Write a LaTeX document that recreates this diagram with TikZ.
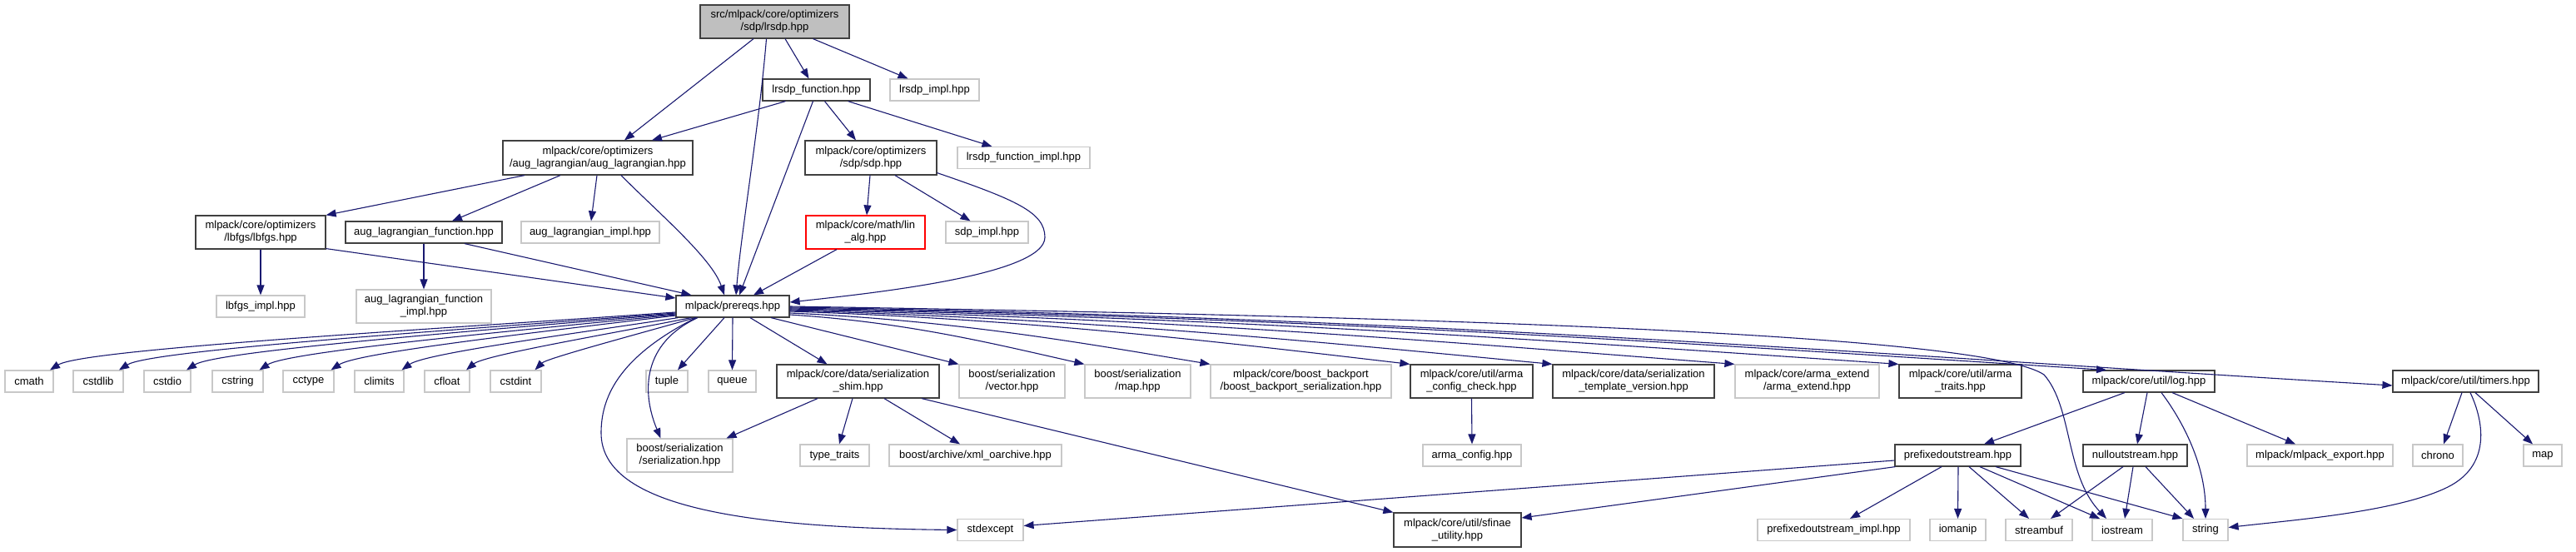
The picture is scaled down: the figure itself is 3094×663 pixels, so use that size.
\documentclass[tikz,border=0pt]{standalone}
\usepackage{fontspec}
\setmainfont{Liberation Sans}
\usetikzlibrary{arrows.meta}
\definecolor{edgecol}{HTML}{191970}
\definecolor{litegray}{HTML}{C8C8C8}
\definecolor{darkb}{HTML}{404040}
\definecolor{rootfill}{HTML}{BFBFBF}
\newcommand\mknode[6]{\node[#1, minimum width=#4pt, minimum height=#5pt] (#2) at (#3) {#6};}
\begin{document}
\begin{tikzpicture}[x=1pt,y=-1pt,
  box/.style={draw=darkb, line width=1.2pt, inner sep=0pt, align=center, font=\fontsize{13}{15}\selectfont, text=black},
  ext/.style={box, draw=litegray},
  root/.style={box, fill=rootfill},
  redbox/.style={box, draw=red},
  edge/.style={draw=edgecol, line width=1.1pt, -{Triangle[length=12pt,width=9pt]}},
]
\useasboundingbox[fill=white] (0,0) rectangle (3094,663);
% nodes
\mknode{root}{lrsdp}{930.5,26}{179}{40}{src/mlpack/core/optimizers\\/sdp/lrsdp.hpp}
\mknode{box}{lfun}{980.5,108}{129}{26}{lrsdp\_function.hpp}
\mknode{ext}{limpl}{1122.5,108}{107}{26}{lrsdp\_impl.hpp}
\mknode{box}{auglag}{718,189.5}{228}{41}{mlpack/core/optimizers\\/aug\_lagrangian/aug\_lagrangian.hpp}
\mknode{box}{sdp}{1046,189.5}{158}{41}{mlpack/core/optimizers\\/sdp/sdp.hpp}
\mknode{ext}{lfimpl}{1229.5,189.5}{159}{26}{lrsdp\_function\_impl.hpp}
\mknode{box}{lbfgs}{313,279}{156}{40}{mlpack/core/optimizers\\/lbfgs/lbfgs.hpp}
\mknode{box}{alfun}{509,279}{188}{26}{aug\_lagrangian\_function.hpp}
\mknode{ext}{alimpl}{709,279}{166}{26}{aug\_lagrangian\_impl.hpp}
\mknode{redbox}{linalg}{1039.5,279}{143}{40}{mlpack/core/math/lin\\\_alg.hpp}
\mknode{ext}{sdpimpl}{1185.5,279}{99}{26}{sdp\_impl.hpp}
\mknode{ext}{lbfgsimpl}{313,368}{106}{26}{lbfgs\_impl.hpp}
\mknode{ext}{alfimpl}{509,368}{162}{40}{aug\_lagrangian\_function\\\_impl.hpp}
\mknode{box}{prereqs}{880,368}{136}{26}{mlpack/prereqs.hpp}
\mknode{ext}{cmath}{35,458}{58}{26}{cmath}
\mknode{ext}{cstdlib}{118,458}{60}{26}{cstdlib}
\mknode{ext}{cstdio}{201,458}{56}{26}{cstdio}
\mknode{ext}{cstring}{285.5,458}{61}{26}{cstring}
\mknode{ext}{cctype}{370.5,458}{61}{26}{cctype}
\mknode{ext}{climits}{455.5,458}{59}{26}{climits}
\mknode{ext}{cfloat}{537,458}{54}{26}{cfloat}
\mknode{ext}{cstdint}{619.5,458}{61}{26}{cstdint}
\mknode{ext}{tuple}{801,458}{50}{26}{tuple}
\mknode{ext}{queue}{879.5,458}{57}{26}{queue}
\mknode{box}{shim}{1030.5,458}{195}{40}{mlpack/core/data/serialization\\\_shim.hpp}
\mknode{ext}{vector}{1215.5,458}{127}{40}{boost/serialization\\/vector.hpp}
\mknode{ext}{bmap}{1366.5,458}{127}{40}{boost/serialization\\/map.hpp}
\mknode{ext}{backport}{1562.5,458}{217}{40}{mlpack/core/boost\_backport\\/boost\_backport\_serialization.hpp}
\mknode{box}{acc}{1767.5,458}{147}{40}{mlpack/core/util/arma\\\_config\_check.hpp}
\mknode{box}{tv}{1962,458}{194}{40}{mlpack/core/data/serialization\\\_template\_version.hpp}
\mknode{ext}{ae}{2170.5,458}{173}{40}{mlpack/core/arma\_extend\\/arma\_extend.hpp}
\mknode{box}{atr}{2354.5,458}{147}{40}{mlpack/core/util/arma\\\_traits.hpp}
\mknode{box}{log}{2581,458}{158}{26}{mlpack/core/util/log.hpp}
\mknode{box}{timers}{2961.5,458}{175}{26}{mlpack/core/util/timers.hpp}
\mknode{ext}{bser}{816.5,547}{127}{40}{boost/serialization\\/serialization.hpp}
\mknode{ext}{tt}{1002.5,547}{83}{26}{type\_traits}
\mknode{ext}{xml}{1171.5,547}{207}{26}{boost/archive/xml\_oarchive.hpp}
\mknode{ext}{ac}{1768,547}{118}{26}{arma\_config.hpp}
\mknode{box}{pos}{2351.5,547}{151}{26}{prefixedoutstream.hpp}
\mknode{box}{nos}{2564.5,547}{125}{26}{nulloutstream.hpp}
\mknode{ext}{exp}{2786.5,547}{175}{26}{mlpack/mlpack\_export.hpp}
\mknode{ext}{chrono}{2928,547}{60}{26}{chrono}
\mknode{ext}{map}{3054,547}{46}{26}{map}
\mknode{ext}{stdexcept}{1189.5,636.5}{79}{26}{stdexcept}
\mknode{box}{sfinae}{1750.5,636.5}{153}{41}{mlpack/core/util/sfinae\\\_utility.hpp}
\mknode{ext}{posimpl}{2202.5,636.5}{183}{26}{prefixedoutstream\_impl.hpp}
\mknode{ext}{iomanip}{2351.5,636.5}{67}{26}{iomanip}
\mknode{ext}{streambuf}{2449,636.5}{80}{26}{streambuf}
\mknode{ext}{iostream}{2549,636.5}{72}{26}{iostream}
\mknode{ext}{string}{2649,636.5}{54}{26}{string}
% top edges
\draw[edge] ([xshift=-25.5pt]lrsdp.south) -- ([xshift=32pt]auglag.north);
\draw[edge] ([xshift=-10pt]lrsdp.south) .. controls (912,150) and (890,280) .. ([xshift=4pt]prereqs.north);
\draw[edge] ([xshift=12.5pt]lrsdp.south) -- ([xshift=-9pt]lfun.north);
\draw[edge] ([xshift=46pt]lrsdp.south) -- ([xshift=-32pt]limpl.north);
\draw[edge] ([xshift=-37pt]lfun.south) -- ([xshift=65pt]auglag.north);
\draw[edge] ([xshift=-4pt]lfun.south) -- ([xshift=8pt]prereqs.north);
\draw[edge] ([xshift=10pt]lfun.south) -- ([xshift=-18pt]sdp.north);
\draw[edge] ([xshift=38pt]lfun.south) -- ([xshift=-38pt]lfimpl.north);
\draw[edge] ([xshift=-88pt]auglag.south) -- (lbfgs.north east);
\draw[edge] ([xshift=-45pt]auglag.south) -- ([xshift=34pt]alfun.north);
\draw[edge] ([xshift=-1pt]auglag.south) -- ([xshift=1pt]alimpl.north);
\draw[edge] ([xshift=28pt]auglag.south) .. controls (790,255) and (855,310) .. ([xshift=-10pt]prereqs.north);
\draw[edge] ([xshift=-1pt]sdp.south) -- ([xshift=1.5pt]linalg.north);
\draw[edge] ([xshift=29pt]sdp.south) -- ([xshift=-20pt]sdpimpl.north);
\draw[edge] ([yshift=3pt]sdp.south east) .. controls (1220,240) and (1255,255) .. (1255,285) .. controls (1255,330) and (1050,352) .. ([yshift=5pt]prereqs.east);
\draw[edge] (lbfgs.south) -- (lbfgsimpl.north);
\draw[edge] ([yshift=1pt]lbfgs.south east) -- ([yshift=10pt]prereqs.west);
\draw[edge] (alfun.south) -- (alfimpl.north);
\draw[edge] ([xshift=49pt]alfun.south) -- ([xshift=19pt]prereqs.north west);
\draw[edge] ([xshift=-34.5pt]linalg.south) -- ([xshift=25pt]prereqs.north);
% prereqs to C headers
\draw[edge] ([yshift=-7pt]prereqs.west) .. controls +(-300,21) and +(40,-25) .. ([xshift=25pt]cmath.north);
\draw[edge] ([yshift=-8pt]prereqs.west) .. controls +(-270,21) and +(38,-24) .. ([xshift=25pt]cstdlib.north);
\draw[edge] ([yshift=-9pt]prereqs.west) .. controls +(-235,20) and +(36,-23) .. ([xshift=23pt]cstdio.north);
\draw[edge] ([yshift=-10pt]prereqs.west) .. controls +(-200,20) and +(34,-22) .. ([xshift=26pt]cstring.north);
\draw[edge] ([yshift=-11pt]prereqs.west) .. controls +(-165,20) and +(32,-21) .. ([xshift=27pt]cctype.north);
\draw[edge] ([xshift=3pt]prereqs.south west) .. controls +(-130,20) and +(28,-20) .. ([xshift=27pt]climits.north);
\draw[edge] ([xshift=-50pt]prereqs.south) .. controls +(-100,20) and +(22,-18) .. ([xshift=23pt]cfloat.north);
\draw[edge] ([xshift=-45pt]prereqs.south) .. controls +(-70,20) and +(14,-14) .. ([xshift=23pt]cstdint.north);
\draw[edge] ([xshift=-10pt]prereqs.south) -- ([xshift=13pt]tuple.north);
\draw[edge] (prereqs.south) -- (queue.north);
\draw[edge] ([xshift=21pt]prereqs.south) -- ([xshift=-37pt]shim.north);
\draw[edge] ([xshift=-42pt]prereqs.south) .. controls (772,412) and (770,470) .. ([xshift=-23pt]bser.north);
\draw[edge] ([xshift=-44pt]prereqs.south) .. controls (740,430) and (722,480) .. (722,520) .. controls (722,610) and (900,634) .. (stdexcept.west);
% prereqs to the right
\draw[edge] ([xshift=46pt]prereqs.south) -- (vector.north west);
\draw[edge] ([yshift=-10pt]prereqs.east) .. controls +(142,9) and +(-107,-24) .. (bmap.north west);
\draw[edge] ([yshift=-8pt]prereqs.east) .. controls +(202,9) and +(-151,-25) .. (backport.north west);
\draw[edge] ([yshift=-6pt]prereqs.east) .. controls +(298,10) and +(-223,-26) .. (acc.north west);
\draw[edge] ([yshift=-5pt]prereqs.east) .. controls +(366,10) and +(-275,-26) .. (tv.north west);
\draw[edge] ([yshift=-4pt]prereqs.east) .. controls +(454,10) and +(-340,-26) .. (ae.north west);
\draw[edge] ([yshift=-3pt]prereqs.east) .. controls +(532,10) and +(-400,-27) .. (atr.north west);
\draw[edge] ([yshift=-2pt]prereqs.east) .. controls +(633,11) and +(-475,-30) .. ([xshift=-51pt]log.north);
\draw[edge] ([yshift=-1pt]prereqs.east) .. controls +(770,12) and +(-578,-34) .. ([yshift=-5pt]timers.west);
\draw[edge] (prereqs.east) .. controls (1700,380) and (2380,400) .. (2455,450) .. controls (2490,490) and (2480,570) .. ([xshift=-19pt]iostream.north);
% serialization shim
\draw[edge] ([xshift=-48.5pt]shim.south) -- ([xshift=56pt]bser.north);
\draw[edge] ([xshift=-6.5pt]shim.south) -- ([xshift=5.5pt]tt.north);
\draw[edge] ([xshift=31.5pt]shim.south) -- ([xshift=-18.5pt]xml.north);
\draw[edge] ([xshift=76.5pt]shim.south) -- (sfinae.north west);
\draw[edge] (acc.south) -- (ac.north);
% log and timers
\draw[edge] ([xshift=-29pt]log.south) -- ([xshift=31.5pt]pos.north);
\draw[edge] ([xshift=-2pt]log.south) -- ([xshift=2.5pt]nos.north);
\draw[edge] ([xshift=15pt]log.south) .. controls +(30,40) and +(0,-60) .. (string.north);
\draw[edge] ([xshift=28pt]log.south) -- ([xshift=-29.5pt]exp.north);
\draw[edge] ([xshift=-4.5pt]timers.south) -- ([xshift=7pt]chrono.north);
\draw[edge] ([xshift=5.5pt]timers.south) .. controls (2985,510) and (2990,560) .. (2940,585) .. controls (2880,615) and (2750,625) .. ([yshift=3pt]string.east);
\draw[edge] ([xshift=11.5pt]timers.south) -- ([xshift=-12pt]map.north);
% prefixedoutstream
\draw[edge] ([xshift=-19.5pt]pos.south) -- ([xshift=19.5pt]posimpl.north);
\draw[edge] ([xshift=0.5pt]pos.south) -- (iomanip.north);
\draw[edge] ([xshift=13.5pt]pos.south) -- ([xshift=-12pt]streambuf.north);
\draw[edge] ([xshift=26.5pt]pos.south) -- ([xshift=-27pt]iostream.north);
\draw[edge] ([xshift=45.5pt]pos.south) -- (string.north west);
\draw[edge] ([yshift=-6pt]pos.west) -- ([yshift=5pt]stdexcept.east);
\draw[edge] ([xshift=1pt]pos.south west) -- ([yshift=14.5pt]sfinae.east);
% nulloutstream
\draw[edge] ([xshift=-14.5pt]nos.south) -- ([xshift=14pt]streambuf.north);
\draw[edge] ([xshift=-2.5pt]nos.south) -- ([xshift=3pt]iostream.north);
\draw[edge] ([xshift=12.5pt]nos.south) -- ([xshift=-14pt]string.north);
\end{tikzpicture}
\end{document}
